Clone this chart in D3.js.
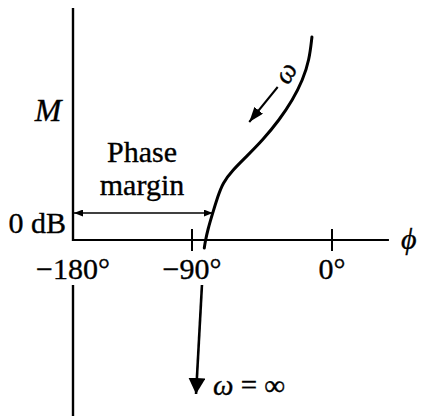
<!DOCTYPE html>
<html>
<head>
<meta charset="utf-8">
<script src="https://cdn.jsdelivr.net/npm/d3@7/dist/d3.min.js"></script>
<style>
  html, body { margin: 0; padding: 0; background: #fff; }
  svg { display: block; }
  text { font-family: "Liberation Serif", "Times New Roman", "DejaVu Serif", serif; fill: #000; stroke: #000; stroke-width: 0.35px; }
</style>
</head>
<body>
<svg id="chart" width="422" height="416"></svg>
<script>
// Nichols-plot sketch: open-loop locus in the magnitude/phase plane
const phaseTicks = [-180, -90, 0];
const tickLabels = ["\u2212180\u00b0", "\u221290\u00b0", "0\u00b0"];

// locus, from low frequency (top) down through the 0 dB crossing
const locusPhase = [-12.9, -12.9, -14.6, -18.8, -25.3, -33.9, -44.5, -55.3, -63.8, -70.3, -73.5, -76.7, -79.9, -81.4, -82.1, -82.1];
const locusMag   = [20.3, 20.3, 18.0, 16.0, 14.0, 12.0, 10.0, 8.3, 7.0, 5.7, 4.3, 2.7, 1.0, -0.1, -0.8, -0.8];

// continuation of the locus toward omega = infinity
const tailPhase = [-83.6, -87.4];
const tailMag   = [-4.5, -15.4];

// direction-of-increasing-frequency arrow beside the locus
const dirPhase = [-34.9, -53.2];
const dirMag   = [15.3, 11.8];

// phase-margin span: from -180 deg to the locus
const marginPhase = [-180, -76.7];
const marginMag = 2.7;

// axis extents
const magTop = 23.2, magBottom = -17.6, axisGapMag = -4.5, phaseEnd = 36.6;

const svg = d3.select("#chart");

// the sketch is not to scale: -180..-90 is drawn narrower than -90..0
const x = d3.scaleLinear().domain([-180, -90, 0]).range([73, 192, 332]);
const y = d3.scaleLinear().domain([0, 20]).range([240, 40]);

const defs = svg.append("defs");
function arrowMarker(id, len, wid) {
  defs.append("marker")
    .attr("id", id)
    .attr("viewBox", `0 ${-wid / 2} ${len} ${wid}`)
    .attr("refX", len).attr("refY", 0)
    .attr("markerUnits", "userSpaceOnUse")
    .attr("markerWidth", len).attr("markerHeight", wid)
    .attr("orient", "auto-start-reverse")
    .append("path")
    .attr("d", `M0,${-wid / 2}L${len},0L0,${wid / 2}Z`)
    .attr("fill", "#000");
}
arrowMarker("headSmall", 9, 7);
arrowMarker("headBig", 16, 17);
arrowMarker("headDir", 15, 11);

// magnitude axis (broken where the -180 label sits)
svg.append("line")
  .attr("x1", x(-180)).attr("x2", x(-180))
  .attr("y1", y(magTop)).attr("y2", y(0) + 1)
  .attr("stroke", "#000").attr("stroke-width", 2.4);
svg.append("line")
  .attr("x1", x(-180)).attr("x2", x(-180))
  .attr("y1", y(axisGapMag)).attr("y2", y(magBottom))
  .attr("stroke", "#000").attr("stroke-width", 2.4);

// phase axis along 0 dB
svg.append("line")
  .attr("x1", x(-180)).attr("x2", x(phaseEnd))
  .attr("y1", y(0)).attr("y2", y(0))
  .attr("stroke", "#000").attr("stroke-width", 2);

// tick marks and labels
const tickG = svg.append("g");
tickG.selectAll("line")
  .data(phaseTicks.filter(d => d !== -180))
  .join("line")
  .attr("x1", d => x(d)).attr("x2", d => x(d))
  .attr("y1", y(0) - 11).attr("y2", y(0) + 11)
  .attr("stroke", "#000").attr("stroke-width", 2);
tickG.selectAll("text")
  .data(phaseTicks)
  .join("text")
  .attr("x", d => x(d))
  .attr("y", y(0) + 39)
  .attr("text-anchor", "middle")
  .attr("font-size", 30)
  .text((d, i) => tickLabels[i]);

// locus (end points doubled so the B-spline reaches them)
const line = d3.line()
  .x(d => x(d[0])).y(d => y(d[1]))
  .curve(d3.curveBasis);
svg.append("path")
  .datum(d3.zip(locusPhase, locusMag))
  .attr("d", line)
  .attr("fill", "none")
  .attr("stroke", "#000")
  .attr("stroke-width", 3)
  .attr("stroke-linecap", "round");

// tail arrow to omega = infinity
svg.append("line")
  .attr("x1", x(tailPhase[0])).attr("y1", y(tailMag[0]))
  .attr("x2", x(tailPhase[1])).attr("y2", y(tailMag[1]))
  .attr("stroke", "#000").attr("stroke-width", 2.6)
  .attr("marker-end", "url(#headBig)");

// frequency direction arrow
svg.append("line")
  .attr("x1", x(dirPhase[0])).attr("y1", y(dirMag[0]))
  .attr("x2", x(dirPhase[1])).attr("y2", y(dirMag[1]))
  .attr("stroke", "#000").attr("stroke-width", 2)
  .attr("marker-end", "url(#headDir)");

// phase margin double arrow
svg.append("line")
  .attr("x1", x(marginPhase[0]) + 1).attr("x2", x(marginPhase[1]))
  .attr("y1", y(marginMag)).attr("y2", y(marginMag))
  .attr("stroke", "#000").attr("stroke-width", 1.6)
  .attr("marker-start", "url(#headSmall)")
  .attr("marker-end", "url(#headSmall)");

// text labels
svg.append("text")
  .attr("x", 48).attr("y", 121)
  .attr("text-anchor", "middle")
  .attr("font-size", 32).attr("font-style", "italic")
  .text("M");

svg.append("text")
  .attr("x", 66).attr("y", 233)
  .attr("text-anchor", "end")
  .attr("font-size", 30)
  .text("0 dB");

svg.append("text")
  .attr("x", 142).attr("y", 162)
  .attr("text-anchor", "middle")
  .attr("font-size", 30)
  .text("Phase");
svg.append("text")
  .attr("x", 142).attr("y", 195)
  .attr("text-anchor", "middle")
  .attr("font-size", 30)
  .text("margin");

svg.append("text")
  .attr("x", 401).attr("y", 249)
  .attr("font-size", 30).attr("font-style", "italic")
  .text("\u03d5");

svg.append("text")
  .attr("x", 213).attr("y", 395)
  .attr("font-size", 29)
  .html('<tspan font-style="italic">\u03c9</tspan> = \u221e');

svg.append("text")
  .attr("transform", "translate(286,73) rotate(-60)")
  .attr("text-anchor", "middle")
  .attr("dy", "0.3em")
  .attr("font-size", 28).attr("font-style", "italic")
  .text("\u03c9");
</script>
</body>
</html>
